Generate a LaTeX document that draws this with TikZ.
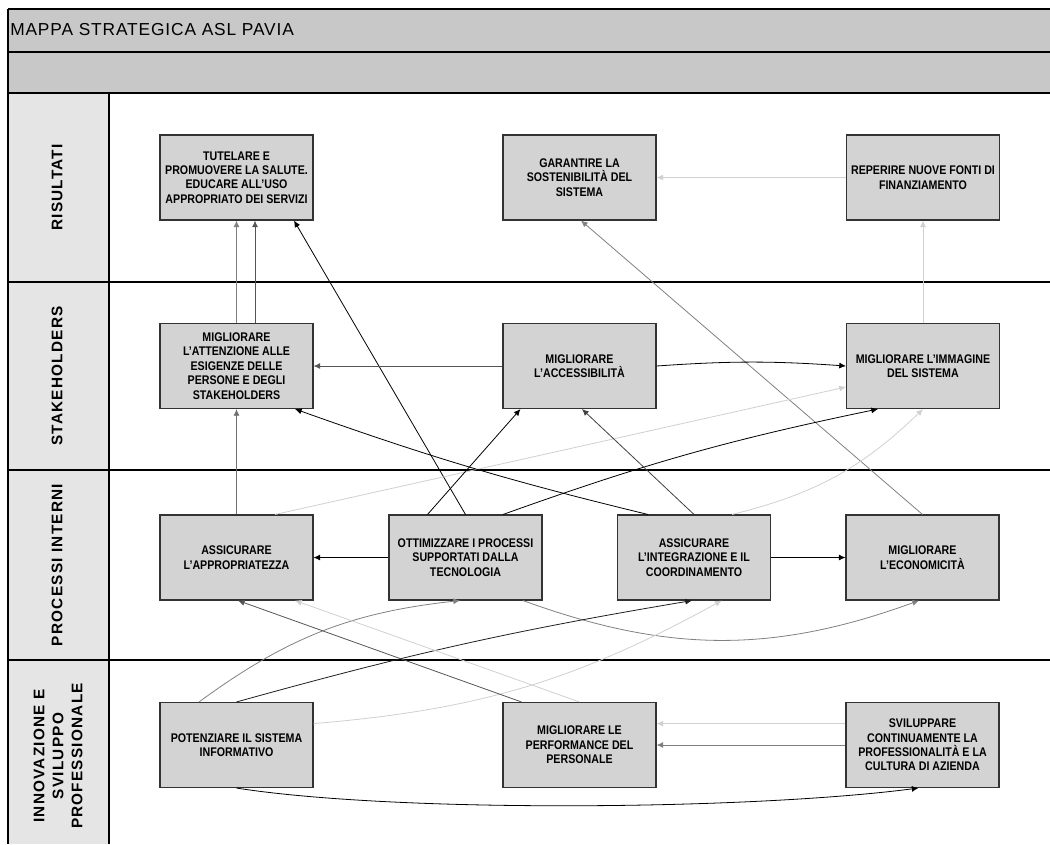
\documentclass[tikz,border=0pt]{standalone}
\usepackage{fontspec}
\setmainfont{Liberation Sans}
\newfontfamily\boxfont[FakeStretch=0.85]{Liberation Sans}
\newfontfamily\lanefont[LetterSpace=8]{Liberation Sans}
\newfontfamily\titlefont[LetterSpace=5]{Liberation Sans}
\usetikzlibrary{arrows.meta,calc}
\definecolor{titlegray}{RGB}{200,200,200}
\definecolor{lanegray}{RGB}{229,229,229}
\definecolor{boxgray}{RGB}{211,211,211}
\definecolor{cA}{RGB}{128,128,128}
\definecolor{cB}{RGB}{85,85,85}
\definecolor{cC}{RGB}{208,208,208}
\definecolor{cD}{RGB}{30,30,30}
\definecolor{cE}{RGB}{64,64,64}
\definecolor{cF}{RGB}{112,112,112}
\begin{document}
\begin{tikzpicture}[x=0.75pt,y=-0.75pt,
  goal/.style={rectangle,draw=black!80,line width=0.8pt,fill=boxgray,minimum width=114.75pt,minimum height=63.75pt,inner sep=0pt,align=center,font=\boxfont\bfseries\fontsize{9.4}{10.8}\selectfont},
  lane/.style={rotate=90,align=center,font=\lanefont\bfseries\fontsize{11.5}{14.25}\selectfont},
  conn/.style={line width=0.6pt,-{Latex[length=5pt,width=4.5pt]}},
  frame/.style={line width=1pt,black},
  dx/.style={xshift=#1*0.75pt},
  dy/.style={yshift=-(#1)*0.75pt}]
\useasboundingbox (0,0) rectangle (1050,844);
% background bars
\fill[titlegray] (8,9) rectangle (1050,93);
\fill[lanegray] (8,93) rectangle (109,844);
\draw[frame] (8,9) -- (1050,9);
\draw[frame] (8,52) -- (1050,52);
\draw[frame] (8,93) -- (1050,93);
\draw[frame] (8,9) -- (8,844);
\draw[frame] (109,93) -- (109,844);
\draw[frame] (8,282) -- (1050,282);
\draw[frame] (8,470) -- (1050,470);
\draw[frame] (8,660) -- (1050,660);
% title
\node[anchor=west,inner sep=0pt,font=\titlefont\fontsize{13}{15}\selectfont] (title) at (10,30) {MAPPA STRATEGICA ASL PAVIA};
% lane labels
\node[lane] (l1) at (57,187.5) {RISULTATI};
\node[lane] (l2) at (57,376) {STAKEHOLDERS};
\node[lane] (l3) at (57,565) {PROCESSI INTERNI};
\node[lane] (l4) at (58,756) {INNOVAZIONE E\\SVILUPPO\\PROFESSIONALE};
% goals
\node[goal] (tut) at (236.5,177.5) {TUTELARE E\\PROMUOVERE LA SALUTE.\\EDUCARE ALL’USO\\APPROPRIATO DEI SERVIZI};
\node[goal] (gar) at (579.5,177.5) {GARANTIRE LA\\SOSTENIBILITÀ DEL\\SISTEMA};
\node[goal] (rep) at (923,177.5) {REPERIRE NUOVE FONTI DI\\FINANZIAMENTO};
\node[goal] (att) at (236.5,366) {MIGLIORARE\\L’ATTENZIONE ALLE\\ESIGENZE DELLE\\PERSONE E DEGLI\\STAKEHOLDERS};
\node[goal] (acc) at (579.5,366) {MIGLIORARE\\L’ACCESSIBILITÀ};
\node[goal] (img) at (923,366) {MIGLIORARE L’IMMAGINE\\DEL SISTEMA};
\node[goal] (app) at (236.5,557.5) {ASSICURARE\\L’APPROPRIATEZZA};
\node[goal] (ott) at (465.5,557.5) {OTTIMIZZARE I PROCESSI\\SUPPORTATI DALLA\\TECNOLOGIA};
\node[goal] (int) at (694,557.5) {ASSICURARE\\L’INTEGRAZIONE E IL\\COORDINAMENTO};
\node[goal] (eco) at (922.5,557.5) {MIGLIORARE\\L’ECONOMICITÀ};
\node[goal] (pot) at (236.5,745) {POTENZIARE IL SISTEMA\\INFORMATIVO};
\node[goal] (per) at (579.5,745) {MIGLIORARE LE\\PERFORMANCE DEL\\PERSONALE};
\node[goal] (svi) at (922.5,745) {SVILUPPARE\\CONTINUAMENTE LA\\PROFESSIONALITÀ E LA\\CULTURA DI AZIENDA};
% connectors
\draw[conn,cA] (att.north) -- (tut.south);
\draw[conn,cB] ([dx=18.5]att.north) -- ([dx=18.5]tut.south);
\draw[conn,black] (ott.north) -- ([dx=57.5]tut.south);
\draw[conn,cC] (rep.west) -- (gar.east);
\draw[conn,cA] (eco.north) -- ([dx=1.5]gar.south);
\draw[conn,cC] (img.north) -- (rep.south);
\draw[conn,cB] (acc.west) -- (att.east);
\draw[conn,black] (acc.east) to[bend left=4] (img.west);
\draw[conn,cF] (app.north) -- (att.south);
\draw[conn,cC] ([dx=38.5]app.north) -- ([dy=21]img.west);
\draw[conn,black] (ott.west) -- (app.east);
\draw[conn,black] ([dx=-38]ott.north) -- ([dx=-59]acc.south);
\draw[conn,black] ([dx=37.5]ott.north) to[bend left=4] ([dx=-45]img.south);
\draw[conn,black] ([dx=-46]int.north) to[bend left=3] ([dx=58.5]att.south);
\draw[conn,cE] (int.north) -- ([dx=2.5]acc.south);
\draw[conn,cC] ([dx=38]int.north) to[bend right=15] (img.south);
\draw[conn,black] (int.east) -- (eco.west);
\draw[conn,cA] ([dx=57.5]ott.south) to[bend right=20] ([dx=-3.5]eco.south);
\draw[conn,cA] ([dx=-37.5]pot.north) to[bend left=15] ([dx=-5.5]ott.south);
\draw[conn,cD] (pot.north) to[bend left=3] ([dx=-2]int.south);
\draw[conn,cC] ([dy=-21.4]pot.east) to[bend right=12] ([dx=27.7]int.south);
\draw[conn,cB] ([dx=-58]per.north) -- ([dx=1.5]app.south);
\draw[conn,cC] (per.north) -- ([dx=58.5]app.south);
\draw[conn,cC] ([dy=-21.4]svi.west) -- ([dy=-21.4]per.east);
\draw[conn,cA] (svi.west) -- (per.east);
\draw[conn,black] (pot.south) .. controls +(160,25) and +(-170,22) .. ([dx=-4]svi.south);
\end{tikzpicture}
\end{document}
